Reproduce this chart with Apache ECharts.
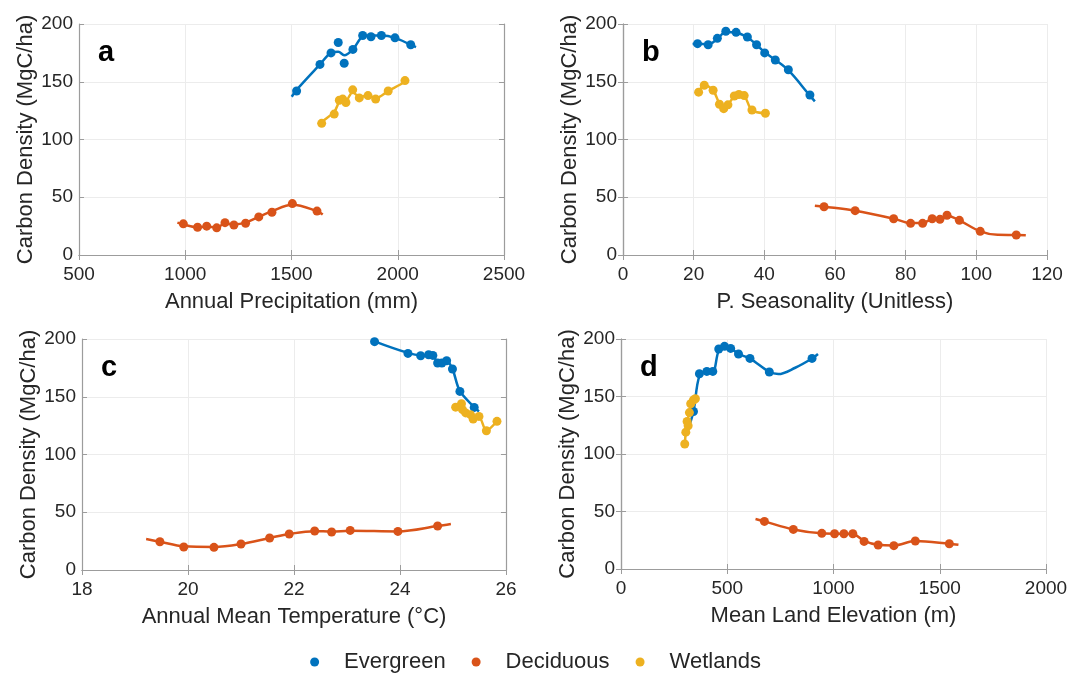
<!DOCTYPE html>
<html>
<head>
<meta charset="utf-8">
<script src="https://cdn.jsdelivr.net/npm/echarts@6/dist/echarts.min.js"></script>
<style>
  html, body { margin: 0; padding: 0; background: #fff; }
  #chart { width: 1071px; height: 673px; }
</style>
</head>
<body>
<div id="chart"></div>
<script>
// ---- data: [x, carbon density] ----
// a: annual precipitation (mm)
var precipEvergreen = [[1524,142],[1634,165],[1686,175],[1720,184],[1748,166],[1789,178],[1835,190],[1874,189],[1923,190],[1987,188],[2061,182]];
var precipEvergreenFit = [[1501,137],[1524,143],[1634,165],[1686,175],[1720,176],[1748,173],[1789,178],[1835,189],[1874,190],[1923,190],[1987,188],[2061,182],[2086,180]];
var precipDeciduous = [[991,27],[1058,24],[1101,25],[1148,23.5],[1187,28],[1229,26],[1284,27.5],[1346,33],[1408,37],[1504,44.5],[1620,38]];
var precipDeciduousFit = [[963,28],[991,26.5],[1058,24],[1101,24.5],[1148,24],[1187,27],[1229,26.5],[1284,28],[1346,33],[1408,38],[1504,43.5],[1620,38],[1647,35]];
var precipWetlands = [[1642,114],[1701,122],[1725,134],[1741,135],[1756,132],[1788,143],[1819,136],[1860,138],[1896,135],[1955,142],[2034,151]];
var precipWetlandsFit = [[1629,112],[1642,115],[1701,124],[1725,133],[1741,136],[1756,134],[1788,141],[1819,137],[1860,138],[1896,136],[1955,142],[2034,150],[2045,152]];

// b: precipitation seasonality (unitless)
var seasonEvergreen = [[21.1,183],[24.1,182],[26.7,187.6],[29.1,193.7],[32.0,192.8],[35.2,188.7],[37.8,182],[40.1,175],[43.1,168.8],[46.8,160.4],[52.9,138.5]];
var seasonEvergreenFit = [[19.7,182.7],[21.1,183],[24.1,182.5],[26.7,187],[29.1,193],[32.0,192.5],[35.2,188.5],[37.8,182],[40.1,175.5],[43.1,169],[46.8,160],[52.9,138],[54.3,133]];
var seasonDeciduous = [[56.9,41.8],[65.7,38.4],[76.6,31.4],[81.4,27.4],[84.8,27.4],[87.5,31.4],[89.7,30.9],[91.7,34.4],[95.2,30.0],[101.1,20.5],[111.3,17.3]];
var seasonDeciduousFit = [[54.3,42.7],[56.9,41.8],[65.7,38.4],[76.6,31.5],[81.4,27.6],[84.8,27.6],[87.5,31],[89.7,31],[91.7,34],[95.2,30],[101.1,20.5],[106,17.5],[111.3,17.3],[114,17]];
var seasonWetlands = [[21.4,141],[23.0,147],[25.5,142.6],[27.3,130.5],[28.5,126.7],[29.7,130],[31.5,137.7],[32.8,139],[34.3,138],[36.5,125.5],[40.3,122.7]];
var seasonWetlandsFit = [[21.4,141],[23.0,147],[25.5,142.5],[27.3,131],[28.5,127],[29.7,130],[31.5,137.5],[32.8,139],[34.3,138],[36.5,125.5],[40.3,122.7]];

// c: annual mean temperature (°C)
var tempEvergreen = [[23.52,197.7],[24.15,187.5],[24.39,185.5],[24.54,186.4],[24.62,185.8],[24.71,179.2],[24.79,179.2],[24.88,181.2],[24.99,174],[25.13,154.6],[25.40,140.8]];
var tempEvergreenFit = [[23.46,200],[23.52,198],[24.15,188],[24.39,186],[24.54,186],[24.62,185.5],[24.71,180],[24.79,179.5],[24.88,181],[24.99,174],[25.13,155],[25.40,141],[25.49,137.3]];
var tempDeciduous = [[19.47,24.5],[19.92,19.9],[20.49,19.6],[21.0,22.5],[21.54,27.7],[21.91,31.2],[22.39,33.8],[22.71,32.9],[23.06,34.3],[23.96,33.4],[24.71,38.1]];
var tempDeciduousFit = [[19.21,26.8],[19.47,24.5],[19.92,20.5],[20.49,20],[21.0,22.5],[21.54,27.7],[21.91,31.2],[22.39,33.6],[22.71,33.3],[23.06,34],[23.96,33.4],[24.71,38],[24.96,39.8]];
var tempWetlands = [[25.05,141],[25.16,144],[25.18,138.8],[25.24,136],[25.33,134.5],[25.38,130.7],[25.49,133],[25.63,120.6],[25.83,128.7]];
var tempWetlandsFit = [[25.05,141],[25.16,143],[25.18,139],[25.24,136],[25.33,134.5],[25.38,131],[25.49,132],[25.63,121],[25.83,129]];

// d: mean land elevation (m)
var elevEvergreen = [[341,137],[369,169.8],[404,171.8],[432,171.8],[460,191.3],[487,193.6],[516,191.8],[553,187],[607,183.1],[698,171.3],[899,183.1]];
var elevEvergreenFit = [[314,121],[341,137],[369,168],[404,172],[432,172],[460,190],[487,193.5],[516,192],[553,187],[607,183],[698,171.5],[740,169.5],[820,175],[899,183],[927,187]];
var elevDeciduous = [[675,41.4],[811,34.4],[945,31],[1005,30.7],[1049,30.7],[1091,30.7],[1144,24],[1210,20.9],[1284,20.3],[1385,24.3],[1545,22]];
var elevDeciduousFit = [[633,43.5],[675,41.4],[811,34.4],[945,31],[1005,30.7],[1049,30.7],[1091,30.5],[1144,24.5],[1210,21],[1284,20.5],[1385,24.3],[1545,22],[1588,21]];
var elevWetlands = [[300,108.7],[305,119],[311,128.3],[316,124.6],[322,136],[328,143.7],[341,147],[350,148]];
var elevWetlandsFit = [[298,106],[300,109],[305,119],[311,128],[322,136],[328,143],[341,147],[350,149]];

var legendNames = ['Evergreen', 'Deciduous', 'Wetlands'];
var colors = ['#0072BD', '#D95319', '#EDB120'];

var FONT = '"Liberation Sans", Arial, sans-serif';
var TXT = '#262626';
var FRAME = '#9c9c9c';

// panel layout
var panels = [
  { label: 'a', grid: { left: 79, top: 24, width: 425, height: 231 }, xMin: 500, xMax: 2500, xInt: 500,
    xName: 'Annual Precipitation (mm)',
    sets: [[precipEvergreen, precipEvergreenFit], [precipDeciduous, precipDeciduousFit], [precipWetlands, precipWetlandsFit]] },
  { label: 'b', grid: { left: 623, top: 24, width: 424, height: 231 }, xMin: 0, xMax: 120, xInt: 20,
    xName: 'P. Seasonality (Unitless)',
    sets: [[seasonEvergreen, seasonEvergreenFit], [seasonDeciduous, seasonDeciduousFit], [seasonWetlands, seasonWetlandsFit]] },
  { label: 'c', grid: { left: 82, top: 339, width: 424, height: 231 }, xMin: 18, xMax: 26, xInt: 2,
    xName: 'Annual Mean Temperature (°C)',
    sets: [[tempEvergreen, tempEvergreenFit], [tempDeciduous, tempDeciduousFit], [tempWetlands, tempWetlandsFit]] },
  { label: 'd', grid: { left: 621, top: 339, width: 425, height: 230 }, xMin: 0, xMax: 2000, xInt: 500,
    xName: 'Mean Land Elevation (m)',
    sets: [[elevEvergreen, elevEvergreenFit], [elevDeciduous, elevDeciduousFit], [elevWetlands, elevWetlandsFit]] }
];

var grids = [], xAxes = [], yAxes = [], series = [], titles = [];

function plain(v) { return String(v); }

panels.forEach(function (p, i) {
  grids.push(p.grid);
  titles.push({
    text: p.label,
    left: p.grid.left + 14,
    top: p.grid.top + 9,
    textStyle: { fontFamily: FONT, fontWeight: 'bold', fontSize: 29, color: '#000' }
  });
  // bottom + top x axes
  xAxes.push({
    type: 'value', gridIndex: i, min: p.xMin, max: p.xMax, interval: p.xInt,
    name: p.xName, nameLocation: 'middle', nameGap: 36,
    nameTextStyle: { fontFamily: FONT, fontSize: 22, color: TXT },
    axisLine: { show: true, lineStyle: { color: FRAME, width: 1.2 } },
    axisTick: { show: true, inside: true, length: 5, lineStyle: { color: FRAME } },
    axisLabel: { fontFamily: FONT, fontSize: 19, color: TXT, margin: 10, formatter: plain },
    splitLine: { show: true, lineStyle: { color: '#ececec', width: 1 } }
  });
  xAxes.push({
    type: 'value', gridIndex: i, position: 'top', min: p.xMin, max: p.xMax, interval: p.xInt,
    axisLine: { show: true, lineStyle: { color: FRAME, width: 1.2 } },
    axisTick: { show: true, inside: true, length: 5, lineStyle: { color: FRAME } },
    axisLabel: { show: false }, splitLine: { show: false }
  });
  // left + right y axes
  yAxes.push({
    type: 'value', gridIndex: i, min: 0, max: 200, interval: 50,
    name: 'Carbon Density (MgC/ha)', nameLocation: 'middle', nameGap: 42, nameRotate: 90,
    nameTextStyle: { fontFamily: FONT, fontSize: 22, color: TXT },
    axisLine: { show: true, lineStyle: { color: FRAME, width: 1.2 } },
    axisTick: { show: true, inside: true, length: 5, lineStyle: { color: FRAME } },
    axisLabel: { fontFamily: FONT, fontSize: 19, color: TXT, margin: 6, formatter: plain },
    splitLine: { show: true, lineStyle: { color: '#ececec', width: 1 } }
  });
  yAxes.push({
    type: 'value', gridIndex: i, position: 'right', min: 0, max: 200, interval: 50,
    axisLine: { show: true, lineStyle: { color: FRAME, width: 1.2 } },
    axisTick: { show: true, inside: true, length: 5, lineStyle: { color: FRAME } },
    axisLabel: { show: false }, splitLine: { show: false }
  });

  p.sets.forEach(function (s, k) {
    series.push({
      type: 'line', name: legendNames[k], xAxisIndex: 2 * i, yAxisIndex: 2 * i,
      data: s[1], smooth: 0.35, showSymbol: false, silent: true,
      lineStyle: { color: colors[k], width: 2.5 }, itemStyle: { color: colors[k] }, z: 2 + k
    });
    series.push({
      type: 'scatter', name: legendNames[k], xAxisIndex: 2 * i, yAxisIndex: 2 * i,
      data: s[0], symbol: 'circle', symbolSize: 9,
      itemStyle: { color: colors[k], opacity: 1 }, z: 2 + k
    });
  });
});

var chart = echarts.init(document.getElementById('chart'), null, { renderer: 'canvas' });
chart.setOption({
  backgroundColor: '#fff',
  animation: false,
  title: titles,
  grid: grids,
  xAxis: xAxes,
  yAxis: yAxes,
  legend: {
    data: legendNames,
    top: 646,
    left: 'center',
    icon: 'circle',
    itemWidth: 9,
    itemHeight: 9,
    itemGap: 26,
    textStyle: { fontFamily: FONT, fontSize: 22, color: TXT, padding: [0, 0, 0, 20] }
  },
  series: series
});
</script>
</body>
</html>
